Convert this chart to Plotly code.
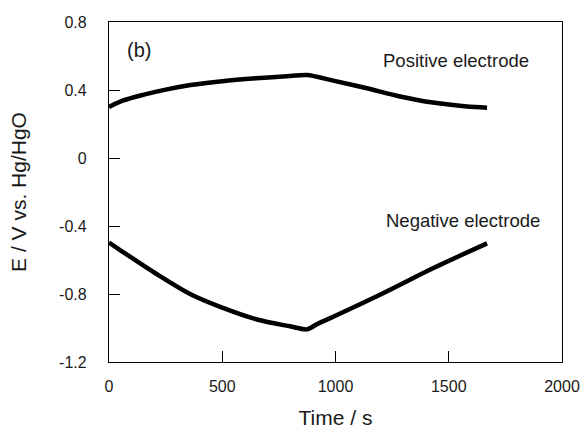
import plotly.graph_objects as go

# Galvanostatic charge/discharge potentials of each electrode
time_pos = [0, 60, 150, 250, 360, 500, 650, 800, 874, 990, 1139, 1285, 1430, 1580, 1669]
e_pos = [0.300, 0.337, 0.371, 0.402, 0.429, 0.452, 0.469, 0.482, 0.488, 0.455, 0.410, 0.362, 0.326, 0.303, 0.296]

time_neg = [0, 62, 212, 358, 503, 653, 799, 874, 920, 990, 1210, 1430, 1669]
e_neg = [-0.498, -0.553, -0.684, -0.800, -0.882, -0.950, -0.990, -1.008, -0.976, -0.934, -0.796, -0.649, -0.502]

x_ticks = [0, 500, 1000, 1500, 2000]
x_tick_text = ["0", "500", "1000", "1500", "2000"]
y_ticks = [-1.2, -0.8, -0.4, 0, 0.4, 0.8]
y_tick_text = ["-1.2", "-0.8", "-0.4", "0", "0.4", "0.8"]

FONT = "Liberation Sans, Arial, sans-serif"
INK = "#1a1a1a"

fig = go.Figure()
for t, e in ((time_pos, e_pos), (time_neg, e_neg)):
    fig.add_trace(go.Scatter(x=t, y=e, mode="lines",
                             line=dict(color="black", width=4.5, shape="spline", smoothing=0.8),
                             showlegend=False, hoverinfo="skip"))

axis_common = dict(showgrid=False, zeroline=False, showline=True, automargin=False,
                   linecolor="black", linewidth=1.3, mirror=True,
                   ticks="inside", ticklen=11, tickwidth=1.3, tickcolor="black",
                   tickfont=dict(family=FONT, size=16, color=INK))

fig.update_xaxes(range=[0, 2000], tickvals=x_ticks, ticktext=x_tick_text,
                 ticklabelstandoff=10,
                 title=dict(text="Time / s", font=dict(family=FONT, size=21, color=INK),
                            standoff=15),
                 **axis_common)
fig.update_yaxes(range=[-1.2, 0.8], tickvals=y_ticks, ticktext=y_tick_text,
                 ticklabelstandoff=18,
                 title=dict(text="E / V vs. Hg/HgO", font=dict(family=FONT, size=21, color=INK),
                            standoff=26),
                 **axis_common)

fig.add_annotation(x=132, y=0.635, text="(b)", showarrow=False,
                   font=dict(family=FONT, size=20, color=INK))
fig.add_annotation(x=1532, y=0.575, text="Positive electrode", showarrow=False,
                   font=dict(family=FONT, size=18.5, color=INK))
fig.add_annotation(x=1563, y=-0.365, text="Negative electrode", showarrow=False,
                   font=dict(family=FONT, size=18.5, color=INK))

fig.update_layout(width=580, height=431, autosize=False,
                  margin=dict(l=109, r=18, t=22, b=69),
                  paper_bgcolor="white", plot_bgcolor="white")

fig.write_html("out.html")
